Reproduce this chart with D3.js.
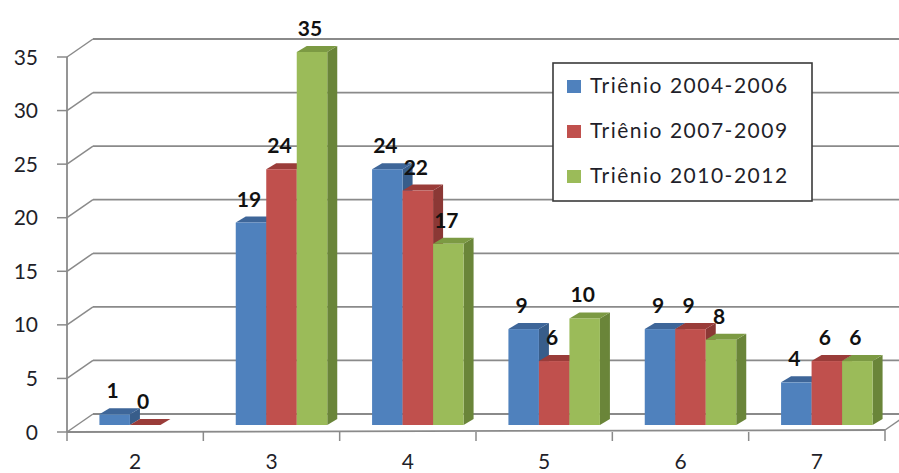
<!DOCTYPE html>
<html><head><meta charset="utf-8">
<script src="https://cdn.jsdelivr.net/npm/d3@7/dist/d3.min.js"></script>
<style>html,body{margin:0;padding:0;background:#fff;}svg{display:block;}</style>
</head><body>
<script>
const categories = ["2","3","4","5","6","7"];
const seriesNames = ["Triênio 2004-2006","Triênio 2007-2009","Triênio 2010-2012"];
const s2004 = [1, 19, 24, 9, 9, 4];
const s2007 = [0, 24, 22, 6, 9, 6];
const s2010 = [null, 35, 17, 10, 8, 6];
const yTicks = [0,5,10,15,20,25,30,35];

const series = [s2004, s2007, s2010];
const front = ["#4F81BD","#C0504D","#9BBB59"];
const topC  = ["#3E6699","#9A3C39","#7C9A43"];
const sideC = ["#385D8A","#8B3835","#6A8539"];

const W = 899, H = 473;
const svg = d3.select("body").append("svg").attr("width", W).attr("height", H);
const font = "Lato, 'Open Sans', sans-serif";

const x = d3.scaleBand().domain(categories).range([67, 885]);
const y = d3.scaleLinear().domain([0, 35]).range([432, 57]);
// bars sit in the middle depth of the floor
const yBar = d3.scaleLinear().domain([0, 35]).range([425, 52]);
const wallDx = 26, wallDy = -18;
const barDx = 10, barDy = -6, barOffX = 10;
const barW = 30.5;
const inner = d3.scaleBand().domain(d3.range(series.length))
  .range([0, barW * series.length]);

const grid = "#8a8a8a";
const g = svg.append("g");

// back wall gridlines + diagonals + ticks
yTicks.forEach(t => {
  const yy = y(t);
  g.append("line").attr("x1", 67 + wallDx).attr("x2", 885 + wallDx + 20)
    .attr("y1", yy + wallDy).attr("y2", yy + wallDy)
    .attr("stroke", grid).attr("stroke-width", 1.8);
  g.append("line").attr("x1", 67).attr("y1", yy).attr("x2", 67 + wallDx).attr("y2", yy + wallDy)
    .attr("stroke", grid).attr("stroke-width", 1.5);
  g.append("line").attr("x1", 57).attr("y1", yy).attr("x2", 67).attr("y2", yy)
    .attr("stroke", grid).attr("stroke-width", 1.5);
  g.append("text").attr("x", 38).attr("y", yy).attr("dy", "0.36em")
    .attr("text-anchor", "end").attr("font-family", font).attr("font-size", 21)
    .attr("fill", "#1f1f2a").text(t);
});

// vertical front axis
g.append("line").attr("x1", 67).attr("x2", 67).attr("y1", y(35)).attr("y2", y(0))
  .attr("stroke", grid).attr("stroke-width", 1.8);

// floor front edge + right diagonal
g.append("line").attr("x1", 67).attr("x2", 885).attr("y1", y(0)).attr("y2", y(0) - 2)
  .attr("stroke", grid).attr("stroke-width", 1.8);
g.append("line").attr("x1", 885).attr("y1", y(0) - 2).attr("x2", 885 + wallDx).attr("y2", y(0) + wallDy - 2)
  .attr("stroke", grid).attr("stroke-width", 1.5);

// category ticks
const bounds = categories.map(c => x(c)).concat([x(categories[categories.length-1]) + x.bandwidth()]);
bounds.forEach((bx, i) => {
  g.append("line").attr("x1", bx).attr("x2", bx).attr("y1", y(0) - (i===bounds.length-1?2:0)).attr("y2", y(0) + 9)
    .attr("stroke", grid).attr("stroke-width", 1.5);
});

// category labels
categories.forEach(c => {
  g.append("text").attr("x", x(c) + x.bandwidth()/2).attr("y", 469)
    .attr("text-anchor", "middle").attr("font-family", font).attr("font-size", 21)
    .attr("fill", "#1f1f2a").text(c);
});

// bars
const bars = svg.append("g");
categories.forEach((c, ci) => {
  const gx = x(c) + x.bandwidth()/2 + barOffX - (barW * series.length)/2;
  series.forEach((s, si) => {
    const v = s[ci];
    if (v === null || v === undefined) return;
    const x0 = gx + inner(si), x1 = x0 + barW;
    const yt = yBar(v), yb = yBar(0);
    bars.append("polygon")
      .attr("points", [[x1,yt],[x1+barDx,yt+barDy],[x1+barDx,yb+barDy],[x1,yb]].map(p=>p.join(",")).join(" "))
      .attr("fill", sideC[si]);
    bars.append("polygon")
      .attr("points", [[x0,yt],[x1,yt],[x1+barDx,yt+barDy],[x0+barDx,yt+barDy]].map(p=>p.join(",")).join(" "))
      .attr("fill", topC[si]);
    if (yb - yt > 0) {
      bars.append("rect").attr("x", x0).attr("y", yt).attr("width", barW).attr("height", yb - yt)
        .attr("fill", front[si]);
    }
  });
});

// data labels
const labels = svg.append("g");
categories.forEach((c, ci) => {
  const gx = x(c) + x.bandwidth()/2 + barOffX - (barW * series.length)/2;
  series.forEach((s, si) => {
    const v = s[ci];
    if (v === null || v === undefined) return;
    const cx = gx + inner(si) + barW/2 - 2;
    labels.append("text").attr("x", cx).attr("y", yBar(v) - 16)
      .attr("text-anchor", "middle").attr("font-family", font).attr("font-weight", "bold")
      .attr("font-size", 21).attr("fill", "#111").text(v);
  });
});

// legend
const lg = svg.append("g");
lg.append("rect").attr("x", 553).attr("y", 63).attr("width", 259).attr("height", 138)
  .attr("fill", "#fff").attr("stroke", "#3a3a3a").attr("stroke-width", 1.6);
seriesNames.forEach((n, i) => {
  const by = 93 + i * 45;
  lg.append("rect").attr("x", 567).attr("y", by - 13).attr("width", 14).attr("height", 13)
    .attr("fill", front[i]);
  lg.append("text").attr("x", 590).attr("y", by).attr("font-family", font)
    .attr("font-size", 21).attr("letter-spacing", 1.5).attr("fill", "#1f1f2a").text(n);
});
</script>
</body></html>
